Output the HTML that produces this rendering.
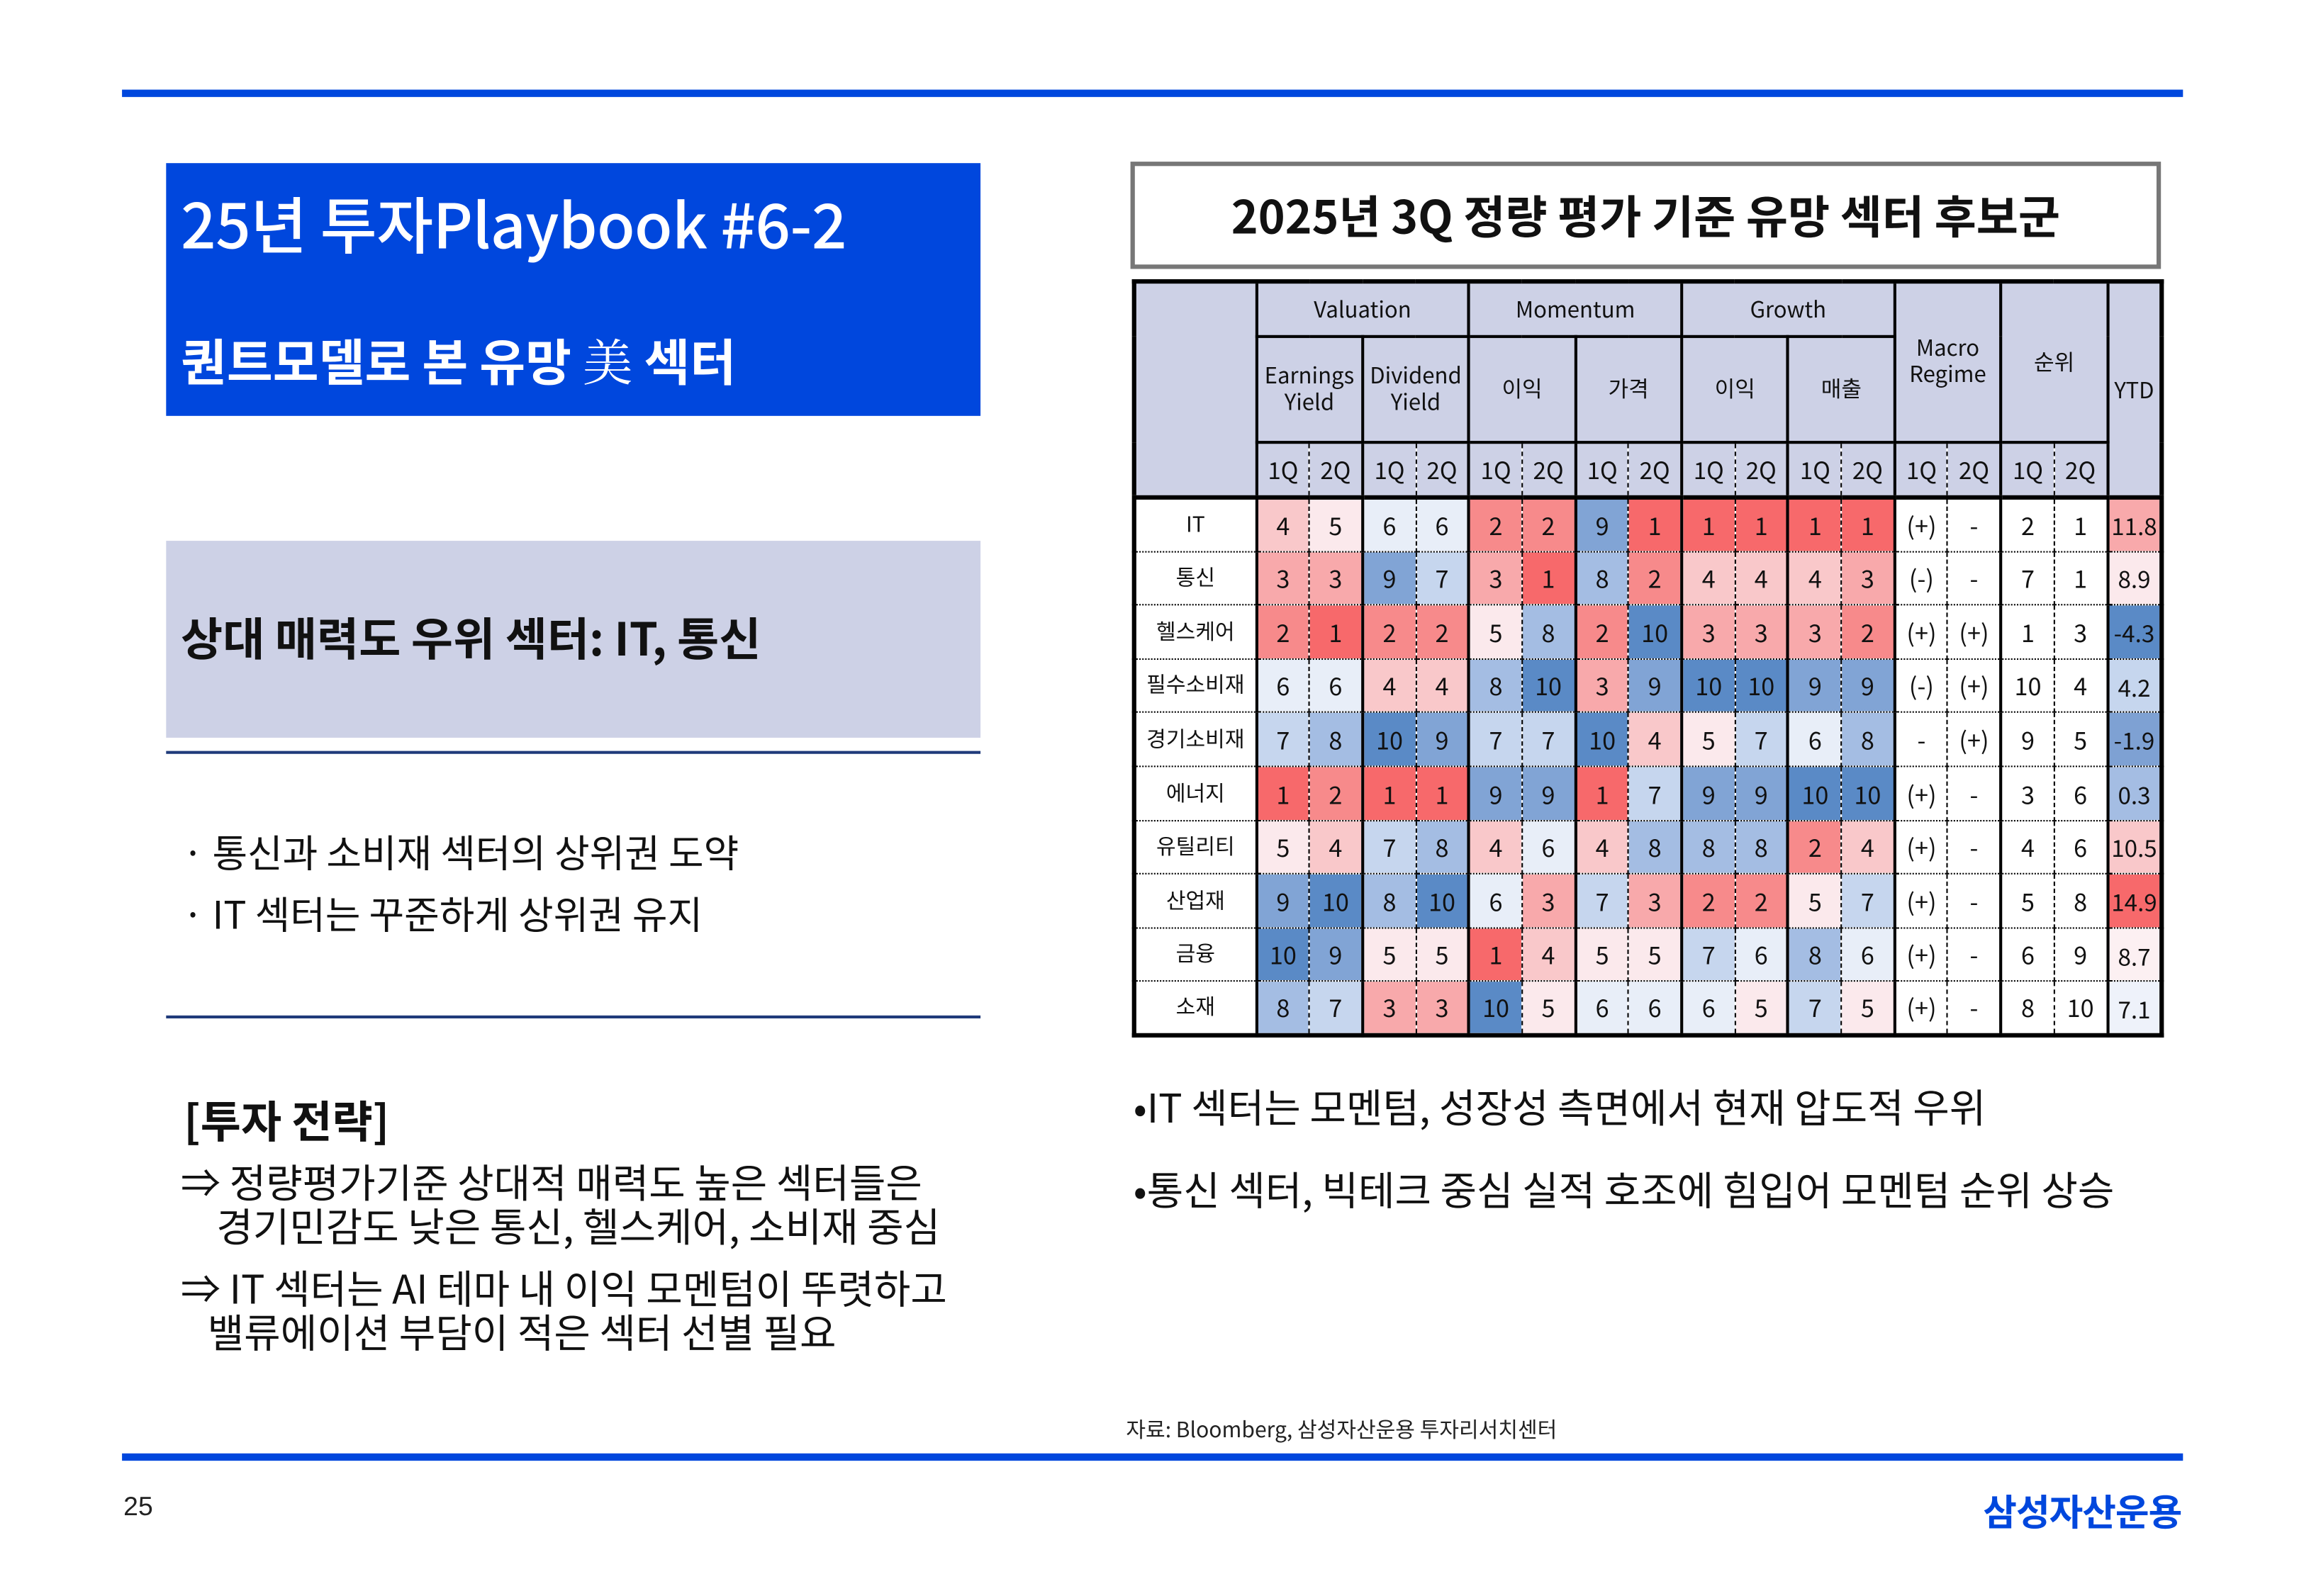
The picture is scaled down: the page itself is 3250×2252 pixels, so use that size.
<!DOCTYPE html>
<html><head><meta charset="utf-8"><style>
*{margin:0;padding:0;box-sizing:border-box}
html,body{width:3250px;height:2250px;background:#fff;overflow:hidden}
#w{position:absolute;left:0;top:0;width:1568px;height:1086px;transform:scale(2.0736);transform-origin:0 0;font-family:"Liberation Sans","Noto Sans CJK KR",sans-serif;color:#111}
.a{position:absolute;white-space:nowrap}
.k{font-family:"Noto Sans CJK KR","Liberation Sans",sans-serif}
table{position:absolute;left:770px;top:190px;width:700px;border-collapse:collapse;table-layout:fixed;border:3px solid #000;font-family:"Noto Sans CJK KR",sans-serif;font-size:16px}
td{text-align:center;vertical-align:middle;padding:0;line-height:1;overflow:hidden;white-space:nowrap}
thead td{background:#cdd1e6;border:2px solid #000;font-size:15px}
thead tr.q td{height:38px;font-size:16px}
thead tr.q td.l{border-right:1px dashed #000}
thead tr.q td.r{border-left:1px dashed #000}
tbody td{height:36.6px;border-top:1px dotted #000;font-size:16.5px}
tbody td.l{border-left:2px solid #000;border-right:1px dashed #000}
tbody td.r{border-right:2px solid #000}
tbody td.n{font-size:14.5px}
tbody td.y{border-left:2px solid #000;font-size:16px}
tbody tr:first-child td{border-top:3px solid #000}
.r1{background:#f7696b}.r2{background:#f78a8b}.r3{background:#f8a9ab}.r4{background:#f9c8ca}.r5{background:#fbe9ec}
.r6{background:#e8eef8}.r7{background:#c6d6ee}.r8{background:#a4bde3}.r9{background:#81a4d5}.r10{background:#5a8ac6}
</style></head><body><div id="w">
<div class="a" style="left:83px;top:61px;width:1402px;height:4.5px;background:#0047dd"></div>
<div class="a" style="left:83px;top:989px;width:1402px;height:4.5px;background:#0047dd"></div>

<div class="a" style="left:113px;top:111px;width:554px;height:172px;background:#0047dd"></div>
<div class="a k" style="left:123px;top:121px;font-size:42px;color:#fff;font-weight:500;letter-spacing:-0.3px">25년 투자Playbook #6-2</div>
<div class="a k" style="left:123px;top:220px;font-size:34px;color:#fff;font-weight:700">퀀트모델로 본 유망 <span style="font-weight:400;font-family:'Noto Serif CJK SC',serif">美</span> 섹터</div>

<div class="a" style="left:113px;top:368px;width:554px;height:134px;background:#cdd1e6"></div>
<div class="a k" style="left:123px;top:410px;font-size:31px;font-weight:700">상대 매력도 우위 섹터: IT, 통신</div>
<div class="a" style="left:113px;top:511px;width:554px;height:2px;background:#1f3a7a"></div>
<div class="a k" style="left:124px;top:561px;font-size:26px">· 통신과 소비재 섹터의 상위권 도약</div>
<div class="a k" style="left:124px;top:603px;font-size:26px">· IT 섹터는 꾸준하게 상위권 유지</div>
<div class="a" style="left:113px;top:691px;width:554px;height:2px;background:#1f3a7a"></div>

<div class="a k" style="left:125px;top:739px;font-size:30px;font-weight:700">[투자 전략]</div>
<div class="a k" style="left:123px;top:789px;font-size:27px;line-height:30px">⇒ 정량평가기준 상대적 매력도 높은 섹터들은<br>&nbsp;&nbsp;&nbsp;&nbsp;경기민감도 낮은 통신, 헬스케어, 소비재 중심</div>
<div class="a k" style="left:123px;top:861px;font-size:27px;line-height:30px">⇒ IT 섹터는 AI 테마 내 이익 모멘텀이 뚜렷하고<br>&nbsp;&nbsp;&nbsp;밸류에이션 부담이 적은 섹터 선별 필요</div>

<div class="a" style="left:769px;top:110px;width:701px;height:73px;border:3px solid #777"></div>
<div class="a k" style="left:769px;top:123px;width:701px;text-align:center;font-size:31px;font-weight:700">2025년 3Q 정량 평가 기준 유망 섹터 후보군</div>

<table>
<colgroup><col style="width:83px"><col span="16" style="width:36.2px"><col style="width:37px"></colgroup>
<thead>
<tr><td rowspan="3"></td><td colspan="4" style="height:37px">Valuation</td><td colspan="4">Momentum</td><td colspan="4">Growth</td><td rowspan="2" colspan="2" style="line-height:1.2">Macro<br>Regime</td><td rowspan="2" colspan="2">순위</td><td rowspan="3">YTD</td></tr>
<tr><td colspan="2" style="height:72px;line-height:1.2">Earnings<br>Yield</td><td colspan="2" style="line-height:1.2">Dividend<br>Yield</td><td colspan="2">이익</td><td colspan="2">가격</td><td colspan="2">이익</td><td colspan="2">매출</td></tr>
<tr class="q"><td class="l">1Q</td><td class="r">2Q</td><td class="l">1Q</td><td class="r">2Q</td><td class="l">1Q</td><td class="r">2Q</td><td class="l">1Q</td><td class="r">2Q</td><td class="l">1Q</td><td class="r">2Q</td><td class="l">1Q</td><td class="r">2Q</td><td class="l">1Q</td><td class="r">2Q</td><td class="l">1Q</td><td class="r">2Q</td></tr>
</thead>
<tbody>
<tr><td class="n">IT</td><td class="l r4">4</td><td class="r r5">5</td><td class="l r6">6</td><td class="r r6">6</td><td class="l r2">2</td><td class="r r2">2</td><td class="l r9">9</td><td class="r r1">1</td><td class="l r1">1</td><td class="r r1">1</td><td class="l r1">1</td><td class="r r1">1</td><td class="l">(+)</td><td class="r">-</td><td class="l">2</td><td class="r">1</td><td class="y" style="background:#f8a9ab">11.8</td></tr>
<tr><td class="n">통신</td><td class="l r3">3</td><td class="r r3">3</td><td class="l r9">9</td><td class="r r7">7</td><td class="l r3">3</td><td class="r r1">1</td><td class="l r8">8</td><td class="r r2">2</td><td class="l r4">4</td><td class="r r4">4</td><td class="l r4">4</td><td class="r r3">3</td><td class="l">(-)</td><td class="r">-</td><td class="l">7</td><td class="r">1</td><td class="y" style="background:#fbe9ec">8.9</td></tr>
<tr><td class="n">헬스케어</td><td class="l r2">2</td><td class="r r1">1</td><td class="l r2">2</td><td class="r r2">2</td><td class="l r5">5</td><td class="r r8">8</td><td class="l r2">2</td><td class="r r10">10</td><td class="l r3">3</td><td class="r r3">3</td><td class="l r3">3</td><td class="r r2">2</td><td class="l">(+)</td><td class="r">(+)</td><td class="l">1</td><td class="r">3</td><td class="y" style="background:#5a8ac6">-4.3</td></tr>
<tr><td class="n">필수소비재</td><td class="l r6">6</td><td class="r r6">6</td><td class="l r4">4</td><td class="r r4">4</td><td class="l r8">8</td><td class="r r10">10</td><td class="l r3">3</td><td class="r r9">9</td><td class="l r10">10</td><td class="r r10">10</td><td class="l r9">9</td><td class="r r9">9</td><td class="l">(-)</td><td class="r">(+)</td><td class="l">10</td><td class="r">4</td><td class="y" style="background:#c6d6ee">4.2</td></tr>
<tr><td class="n">경기소비재</td><td class="l r7">7</td><td class="r r8">8</td><td class="l r10">10</td><td class="r r9">9</td><td class="l r7">7</td><td class="r r7">7</td><td class="l r10">10</td><td class="r r4">4</td><td class="l r5">5</td><td class="r r7">7</td><td class="l r6">6</td><td class="r r8">8</td><td class="l">-</td><td class="r">(+)</td><td class="l">9</td><td class="r">5</td><td class="y" style="background:#7ea1d3">-1.9</td></tr>
<tr><td class="n">에너지</td><td class="l r1">1</td><td class="r r2">2</td><td class="l r1">1</td><td class="r r1">1</td><td class="l r9">9</td><td class="r r9">9</td><td class="l r1">1</td><td class="r r7">7</td><td class="l r9">9</td><td class="r r9">9</td><td class="l r10">10</td><td class="r r10">10</td><td class="l">(+)</td><td class="r">-</td><td class="l">3</td><td class="r">6</td><td class="y" style="background:#a4bde3">0.3</td></tr>
<tr><td class="n">유틸리티</td><td class="l r5">5</td><td class="r r4">4</td><td class="l r7">7</td><td class="r r8">8</td><td class="l r4">4</td><td class="r r6">6</td><td class="l r4">4</td><td class="r r8">8</td><td class="l r8">8</td><td class="r r8">8</td><td class="l r2">2</td><td class="r r4">4</td><td class="l">(+)</td><td class="r">-</td><td class="l">4</td><td class="r">6</td><td class="y" style="background:#f9c8ca">10.5</td></tr>
<tr><td class="n">산업재</td><td class="l r9">9</td><td class="r r10">10</td><td class="l r8">8</td><td class="r r10">10</td><td class="l r6">6</td><td class="r r3">3</td><td class="l r7">7</td><td class="r r3">3</td><td class="l r2">2</td><td class="r r2">2</td><td class="l r5">5</td><td class="r r7">7</td><td class="l">(+)</td><td class="r">-</td><td class="l">5</td><td class="r">8</td><td class="y" style="background:#f7696b">14.9</td></tr>
<tr><td class="n">금융</td><td class="l r10">10</td><td class="r r9">9</td><td class="l r5">5</td><td class="r r5">5</td><td class="l r1">1</td><td class="r r4">4</td><td class="l r5">5</td><td class="r r5">5</td><td class="l r7">7</td><td class="r r6">6</td><td class="l r8">8</td><td class="r r6">6</td><td class="l">(+)</td><td class="r">-</td><td class="l">6</td><td class="r">9</td><td class="y" style="background:#fcf0f2">8.7</td></tr>
<tr><td class="n">소재</td><td class="l r8">8</td><td class="r r7">7</td><td class="l r3">3</td><td class="r r3">3</td><td class="l r10">10</td><td class="r r5">5</td><td class="l r6">6</td><td class="r r6">6</td><td class="l r6">6</td><td class="r r5">5</td><td class="l r7">7</td><td class="r r5">5</td><td class="l">(+)</td><td class="r">-</td><td class="l">8</td><td class="r">10</td><td class="y" style="background:#eef2fa">7.1</td></tr>
</tbody></table>

<div class="a k" style="left:771px;top:733px;font-size:27px">•IT 섹터는 모멘텀, 성장성 측면에서 현재 압도적 우위</div>
<div class="a k" style="left:771px;top:789px;font-size:27px">•통신 섹터, 빅테크 중심 실적 호조에 힘입어 모멘텀 순위 상승</div>

<div class="a k" style="left:766px;top:962px;font-size:14.5px;color:#222">자료: Bloomberg, 삼성자산운용 투자리서치센터</div>
<div class="a" style="left:84px;top:1015px;font-size:18px;color:#222">25</div>
<div class="a k" style="left:1349px;top:1010px;font-size:25px;font-weight:700;color:#0047dd;letter-spacing:-0.5px">삼성자산운용</div>
</div></body></html>
